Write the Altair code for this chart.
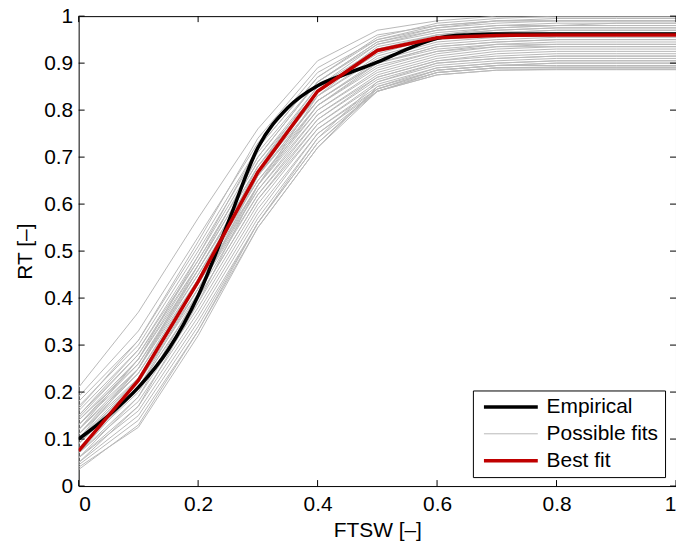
import altair as alt
import pandas as pd

# ---------------- data ----------------
x_fit = [0.0, 0.1, 0.2, 0.3, 0.4, 0.5, 0.6, 0.7, 0.8, 0.9, 1.0]

possible_fits = [
    [0.21, 0.37, 0.57, 0.76, 0.905, 0.97, 0.99, 1.0, 1.0, 1.0, 1.0],
    [0.19, 0.33, 0.53, 0.73, 0.88, 0.95, 0.98, 0.99, 0.99, 0.99, 0.99],
    [0.17, 0.30, 0.50, 0.71, 0.86, 0.94, 0.97, 0.98, 0.98, 0.985, 0.985],
    [0.16, 0.29, 0.48, 0.69, 0.85, 0.93, 0.96, 0.97, 0.975, 0.975, 0.975],
    [0.15, 0.28, 0.47, 0.68, 0.84, 0.92, 0.955, 0.965, 0.97, 0.97, 0.97],
    [0.14, 0.27, 0.46, 0.67, 0.83, 0.915, 0.95, 0.96, 0.965, 0.965, 0.965],
    [0.14, 0.26, 0.45, 0.66, 0.82, 0.905, 0.94, 0.95, 0.955, 0.955, 0.955],
    [0.13, 0.25, 0.44, 0.65, 0.81, 0.90, 0.935, 0.945, 0.95, 0.95, 0.95],
    [0.13, 0.26, 0.46, 0.66, 0.81, 0.89, 0.925, 0.94, 0.945, 0.945, 0.945],
    [0.12, 0.24, 0.43, 0.64, 0.80, 0.885, 0.92, 0.935, 0.94, 0.94, 0.94],
    [0.12, 0.25, 0.45, 0.65, 0.80, 0.88, 0.915, 0.93, 0.935, 0.935, 0.935],
    [0.11, 0.23, 0.42, 0.63, 0.79, 0.875, 0.91, 0.925, 0.93, 0.93, 0.93],
    [0.11, 0.24, 0.44, 0.64, 0.79, 0.87, 0.905, 0.92, 0.925, 0.925, 0.925],
    [0.10, 0.22, 0.41, 0.62, 0.78, 0.87, 0.905, 0.915, 0.92, 0.92, 0.92],
    [0.10, 0.23, 0.43, 0.63, 0.78, 0.865, 0.90, 0.91, 0.915, 0.915, 0.915],
    [0.09, 0.21, 0.40, 0.61, 0.77, 0.86, 0.895, 0.905, 0.91, 0.91, 0.91],
    [0.09, 0.22, 0.42, 0.62, 0.77, 0.855, 0.89, 0.90, 0.905, 0.905, 0.905],
    [0.08, 0.20, 0.39, 0.60, 0.76, 0.85, 0.885, 0.895, 0.90, 0.90, 0.90],
    [0.08, 0.21, 0.40, 0.61, 0.76, 0.845, 0.885, 0.895, 0.895, 0.895, 0.895],
    [0.07, 0.19, 0.38, 0.59, 0.75, 0.84, 0.88, 0.89, 0.89, 0.89, 0.89],
    [0.07, 0.18, 0.37, 0.58, 0.75, 0.845, 0.885, 0.895, 0.90, 0.90, 0.90],
    [0.06, 0.17, 0.36, 0.57, 0.74, 0.84, 0.88, 0.89, 0.892, 0.892, 0.892],
    [0.06, 0.16, 0.35, 0.56, 0.73, 0.84, 0.875, 0.885, 0.887, 0.887, 0.887],
    [0.05, 0.15, 0.34, 0.56, 0.73, 0.845, 0.88, 0.89, 0.89, 0.89, 0.89],
    [0.045, 0.14, 0.33, 0.55, 0.72, 0.84, 0.875, 0.885, 0.886, 0.886, 0.886],
    [0.04, 0.125, 0.32, 0.55, 0.72, 0.85, 0.89, 0.90, 0.905, 0.905, 0.905],
    [0.035, 0.13, 0.33, 0.56, 0.74, 0.86, 0.90, 0.91, 0.915, 0.915, 0.915],
    [0.12, 0.27, 0.49, 0.72, 0.87, 0.95, 0.975, 0.985, 0.99, 0.99, 0.99],
    [0.10, 0.25, 0.47, 0.70, 0.86, 0.945, 0.97, 0.98, 0.985, 0.985, 0.985],
    [0.08, 0.22, 0.44, 0.68, 0.85, 0.94, 0.965, 0.975, 0.98, 0.98, 0.98],
    [0.06, 0.19, 0.41, 0.66, 0.84, 0.935, 0.96, 0.97, 0.975, 0.975, 0.975],
    [0.05, 0.17, 0.39, 0.64, 0.83, 0.93, 0.955, 0.965, 0.97, 0.97, 0.97],
    [0.15, 0.29, 0.49, 0.70, 0.86, 0.945, 0.975, 0.99, 0.995, 0.995, 0.995],
    [0.18, 0.31, 0.51, 0.72, 0.87, 0.955, 0.985, 0.995, 1.0, 1.0, 1.0],
    [0.13, 0.27, 0.47, 0.68, 0.83, 0.91, 0.945, 0.955, 0.96, 0.96, 0.96],
    [0.11, 0.25, 0.46, 0.67, 0.82, 0.90, 0.935, 0.945, 0.95, 0.95, 0.95],
    [0.09, 0.23, 0.44, 0.66, 0.82, 0.90, 0.93, 0.94, 0.94, 0.94, 0.94],
    [0.07, 0.21, 0.42, 0.64, 0.81, 0.895, 0.925, 0.935, 0.935, 0.935, 0.935],
    [0.165, 0.31, 0.52, 0.74, 0.89, 0.96, 0.98, 0.99, 0.99, 0.99, 0.99],
    [0.145, 0.28, 0.48, 0.69, 0.84, 0.925, 0.96, 0.975, 0.98, 0.98, 0.98],
]

best_fit = [0.075, 0.225, 0.435, 0.668, 0.84, 0.927, 0.954, 0.959, 0.96, 0.96, 0.96]

emp_x = [0.0, 0.05, 0.1, 0.15, 0.2, 0.25, 0.3, 0.35, 0.4, 0.45, 0.5, 0.55, 0.6,
         0.65, 0.7, 0.8, 0.9, 1.0]
emp_y = [0.10, 0.15, 0.21, 0.29, 0.405, 0.56, 0.72, 0.805, 0.852, 0.878, 0.902,
         0.93, 0.953, 0.96, 0.962, 0.962, 0.962, 0.962]

series_names = ["Empirical", "Possible fits", "Best fit"]
series_colors = ["#000000", "#b8b8b8", "#c00000"]
series_widths = [3.5, 1.0, 3.5]

x_ticks = [0.0, 0.2, 0.4, 0.6, 0.8, 1.0]
y_ticks = [0.0, 0.1, 0.2, 0.3, 0.4, 0.5, 0.6, 0.7, 0.8, 0.9, 1.0]

# ---------------- tables ----------------
fit_rows = []
for i, ys in enumerate(possible_fits):
    for xv, yv in zip(x_fit, ys):
        fit_rows.append({"x": xv, "y": yv, "id": i, "series": "Possible fits"})
fits_df = pd.DataFrame(fit_rows)
best_df = pd.DataFrame({"x": x_fit, "y": best_fit, "series": "Best fit"})
emp_df = pd.DataFrame({"x": emp_x, "y": emp_y, "series": "Empirical"})
xt_df = pd.DataFrame({"x": x_ticks})
yt_df = pd.DataFrame({"y": y_ticks})

W, H = 600, 472
FONT = "Liberation Sans"
FS = 21

xscale = alt.Scale(domain=[0, 1], nice=False, zero=False)
yscale = alt.Scale(domain=[0, 1], nice=False, zero=False)
X = alt.X("x:Q", scale=xscale,
          axis=alt.Axis(values=x_ticks, format="~g", title="FTSW [–]",
                        labelPadding=8, titlePadding=5))
Y = alt.Y("y:Q", scale=yscale,
          axis=alt.Axis(values=y_ticks, format="~g", title="RT [–]",
                        labelPadding=6, titlePadding=8))

leg = alt.Legend(orient="none", legendX=396, legendY=376, title=None,
                 direction="vertical", strokeColor="black", fillColor="white",
                 padding=6, symbolType="M-1,0H9", symbolSize=117,
                 labelFont=FONT, labelFontSize=FS, labelColor="black",
                 labelOffset=47, rowPadding=5, cornerRadius=0)
color = alt.Color("series:O",
                  scale=alt.Scale(type="ordinal", domain=series_names, range=series_colors),
                  legend=leg)
swidth = alt.StrokeWidth("series:O",
                         scale=alt.Scale(type="ordinal", domain=series_names,
                                         range=series_widths),
                         legend=leg)

gray = alt.Chart(fits_df).mark_line(clip=True).encode(
    x=X, y=Y, detail="id:N", color=color, strokeWidth=swidth)
black = alt.Chart(emp_df).mark_line(clip=True, interpolate="monotone").encode(
    x=X, y=Y, color=color, strokeWidth=swidth)
red = alt.Chart(best_df).mark_line(clip=True).encode(
    x=X, y=Y, color=color, strokeWidth=swidth)

tick_len = 6
bottom_ticks = alt.Chart(xt_df).mark_rule(color="black", strokeWidth=1).encode(
    x=X, y=alt.value(H), y2=alt.value(H - tick_len))
top_ticks = alt.Chart(xt_df).mark_rule(color="black", strokeWidth=1).encode(
    x=X, y=alt.value(0), y2=alt.value(tick_len))
left_ticks = alt.Chart(yt_df).mark_rule(color="black", strokeWidth=1).encode(
    y=Y, x=alt.value(0), x2=alt.value(tick_len))
right_ticks = alt.Chart(yt_df).mark_rule(color="black", strokeWidth=1).encode(
    y=Y, x=alt.value(W), x2=alt.value(W - tick_len))

chart = alt.layer(gray, black, red, bottom_ticks, top_ticks, left_ticks, right_ticks).properties(
    width=W, height=H, autosize="none", background="white",
    padding={"left": 79, "top": 15, "right": 0, "bottom": 59},
).configure_view(stroke="black", strokeWidth=1).configure_axis(
    grid=False, domain=False, ticks=False, tickSize=0,
    labelFont=FONT, labelFontSize=FS, labelColor="black",
    titleFont=FONT, titleFontSize=FS, titleFontWeight="normal", titleColor="black",
)

chart.save("out.html", embed_options={"renderer": "svg", "actions": False})
